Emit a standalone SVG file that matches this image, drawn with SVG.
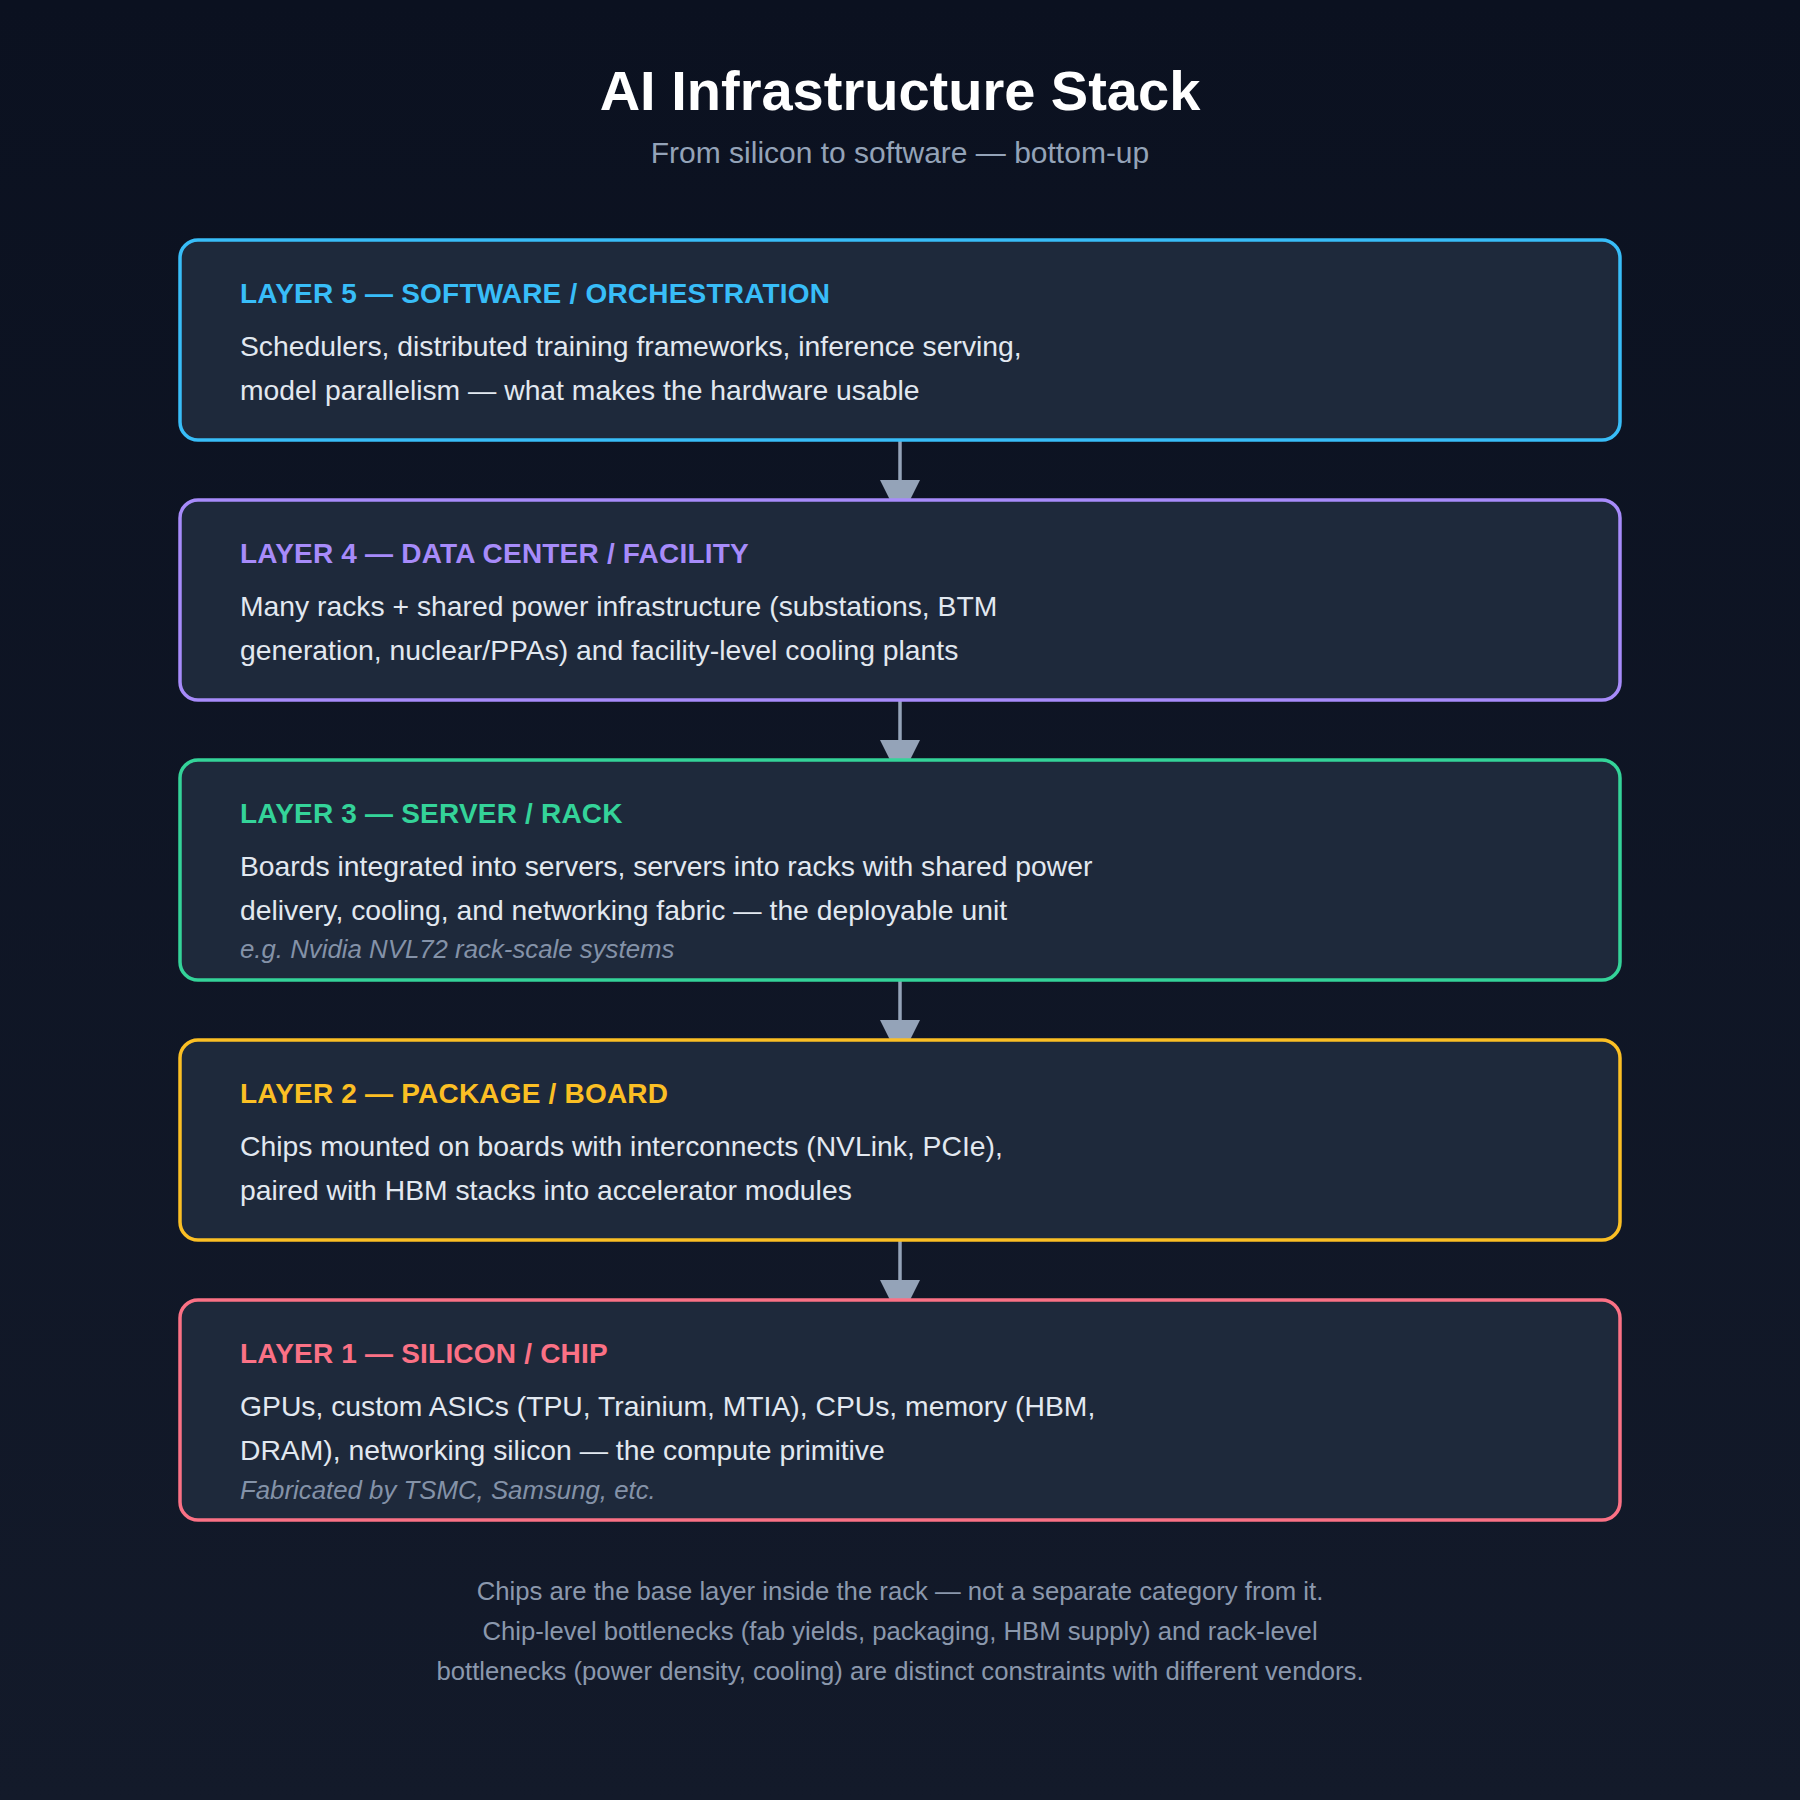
<svg xmlns="http://www.w3.org/2000/svg" width="1800" height="1800" viewBox="0 0 1800 1800">
<defs>
<linearGradient id="bg" x1="0" y1="0" x2="0" y2="1">
<stop offset="0" stop-color="#0b1120"/>
<stop offset="1" stop-color="#131a2a"/>
</linearGradient>
<style>
.box{fill:#1e293b;stroke-width:3.5}
.h{font-family:"Liberation Sans",Arial,sans-serif;font-weight:bold;font-size:28px;letter-spacing:0.2px}
.b{font-family:"Liberation Sans",Arial,sans-serif;font-size:28.3px;fill:#e2e8f0}
.n{font-family:"Liberation Sans",Arial,sans-serif;font-size:25.8px;font-style:italic;fill:#8492a8}
.f{font-family:"Liberation Sans",Arial,sans-serif;font-size:25.7px;fill:#8b98ad;text-anchor:middle}
.conn line{stroke:#94a3b8;stroke-width:3.5}
.conn polygon{fill:#94a3b8}
</style>
</defs>
<rect width="1800" height="1800" fill="url(#bg)"/>
<text x="900" y="110" text-anchor="middle" font-family="Liberation Sans,Arial,sans-serif" font-weight="bold" font-size="56" fill="#ffffff">AI Infrastructure Stack</text>
<text x="900" y="163" text-anchor="middle" font-family="Liberation Sans,Arial,sans-serif" font-size="30" fill="#94a3b8">From silicon to software — bottom-up</text>

<g id="connectors" class="conn">
<line x1="900" y1="440" x2="900" y2="482"/><polygon points="880,480 920,480 900,520"/>
<line x1="900" y1="700" x2="900" y2="742"/><polygon points="880,740 920,740 900,780"/>
<line x1="900" y1="980" x2="900" y2="1022"/><polygon points="880,1020 920,1020 900,1060"/>
<line x1="900" y1="1240" x2="900" y2="1282"/><polygon points="880,1280 920,1280 900,1320"/>
</g>

<g id="layer5">
<rect class="box" x="180" y="240" width="1440" height="200" rx="18" stroke="#38bdf8"/>
<text class="h" x="240" y="303" fill="#38bdf8">LAYER 5 — SOFTWARE / ORCHESTRATION</text>
<text class="b" x="240" y="356">Schedulers, distributed training frameworks, inference serving,</text>
<text class="b" x="240" y="400">model parallelism — what makes the hardware usable</text>
</g>

<g id="layer4">
<rect class="box" x="180" y="500" width="1440" height="200" rx="18" stroke="#a78bfa"/>
<text class="h" x="240" y="563" fill="#a78bfa">LAYER 4 — DATA CENTER / FACILITY</text>
<text class="b" x="240" y="616">Many racks + shared power infrastructure (substations, BTM</text>
<text class="b" x="240" y="660">generation, nuclear/PPAs) and facility-level cooling plants</text>
</g>

<g id="layer3">
<rect class="box" x="180" y="760" width="1440" height="220" rx="18" stroke="#34d399"/>
<text class="h" x="240" y="823" fill="#34d399">LAYER 3 — SERVER / RACK</text>
<text class="b" x="240" y="876">Boards integrated into servers, servers into racks with shared power</text>
<text class="b" x="240" y="920">delivery, cooling, and networking fabric — the deployable unit</text>
<text class="n" x="240" y="958">e.g. Nvidia NVL72 rack-scale systems</text>
</g>

<g id="layer2">
<rect class="box" x="180" y="1040" width="1440" height="200" rx="18" stroke="#fbbf24"/>
<text class="h" x="240" y="1103" fill="#fbbf24">LAYER 2 — PACKAGE / BOARD</text>
<text class="b" x="240" y="1156">Chips mounted on boards with interconnects (NVLink, PCIe),</text>
<text class="b" x="240" y="1200">paired with HBM stacks into accelerator modules</text>
</g>

<g id="layer1">
<rect class="box" x="180" y="1300" width="1440" height="220" rx="18" stroke="#fb7185"/>
<text class="h" x="240" y="1363" fill="#fb7185">LAYER 1 — SILICON / CHIP</text>
<text class="b" x="240" y="1416">GPUs, custom ASICs (TPU, Trainium, MTIA), CPUs, memory (HBM,</text>
<text class="b" x="240" y="1460">DRAM), networking silicon — the compute primitive</text>
<text class="n" x="240" y="1499">Fabricated by TSMC, Samsung, etc.</text>
</g>

<g id="footer">
<text class="f" x="900" y="1600">Chips are the base layer inside the rack — not a separate category from it.</text>
<text class="f" x="900" y="1640">Chip-level bottlenecks (fab yields, packaging, HBM supply) and rack-level</text>
<text class="f" x="900" y="1680">bottlenecks (power density, cooling) are distinct constraints with different vendors.</text>
</g>
</svg>
